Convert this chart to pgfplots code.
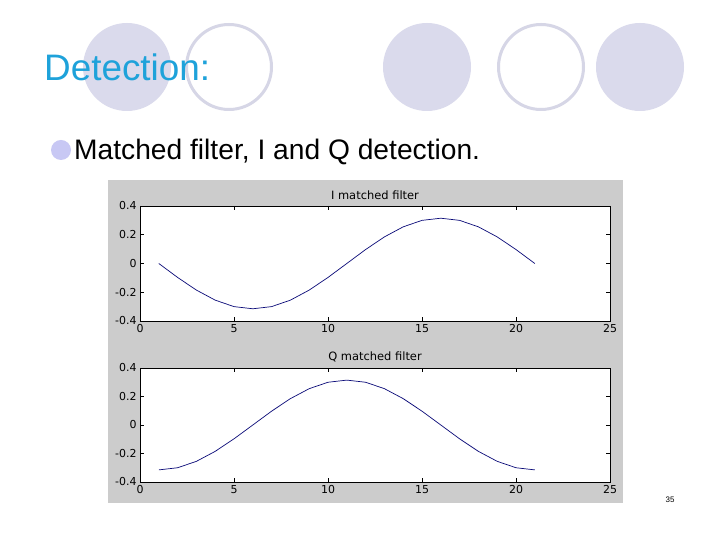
\documentclass[border=0pt]{standalone}
\usepackage{fontspec}
\setmainfont{Liberation Sans}
\newfontfamily\mfont{DejaVu Sans}
\usepackage{pgfplots}
\pgfplotsset{compat=1.18}
\definecolor{circfill}{RGB}{218,218,236}
\definecolor{circline}{RGB}{214,214,230}
\definecolor{titleblue}{RGB}{30,162,218}
\definecolor{bulletc}{RGB}{200,200,244}
\definecolor{figgray}{RGB}{204,204,204}
\definecolor{navy}{RGB}{10,10,120}
\pgfplotsset{
  matlab/.style={
    scale only axis, width=470bp, height=115bp,
    anchor=south west,
    xmin=0, xmax=25, ymin=-0.4, ymax=0.4,
    xtick={0,5,...,25}, ytick={-0.4,-0.2,0,0.2,0.4},
    tick align=inside, tick pos=both,
    major tick length=4bp,
    axis line style={black, line width=0.7bp},
    every tick/.style={black, line width=0.7bp},
    axis background/.style={fill=white},
    tick label style={font=\mfont\fontsize{11}{12}\selectfont},
    title style={font=\mfont\fontsize{11.5}{12}\selectfont, yshift=-3bp},
    yticklabel style={/pgf/number format/fixed, /pgf/number format/precision=1},
    /pgf/number format/assume math mode=true,
  }
}
\begin{document}
\begin{tikzpicture}[x=1bp, y=1bp]
\useasboundingbox (0,0) rectangle (720,540);
\fill[white] (0,0) rectangle (720,540);
% decorative circles
\fill[circfill] (127,473) circle (44);
\draw[circline, line width=3bp] (229,473) circle (42.5);
\fill[circfill] (427,473) circle (44);
\draw[circline, line width=3bp] (541,473) circle (42.5);
\fill[circfill] (640,473) circle (44);
% title and bullet
\node[anchor=base west, inner sep=0, text=titleblue, font=\fontsize{37}{40}\selectfont] at (44,459) {Detection:};
\fill[bulletc] (61,390) circle (10);
\node[anchor=base west, inner sep=0, font=\fontsize{28.3}{32}\selectfont] at (74,380) {Matched filter, I and Q detection.};
% figure background
\fill[figgray] (108,37) rectangle (623,360);
\begin{axis}[matlab, at={(140bp,219bp)}, title={I matched filter}]
\addplot[navy, line width=0.7bp] coordinates {
(1,0) (2,-0.097) (3,-0.185) (4,-0.255) (5,-0.300) (6,-0.315) (7,-0.300)
(8,-0.255) (9,-0.185) (10,-0.097) (11,0) (12,0.097) (13,0.185) (14,0.255)
(15,0.300) (16,0.315) (17,0.300) (18,0.255) (19,0.185) (20,0.097) (21,0)
};
\end{axis}
\begin{axis}[matlab, at={(140bp,58bp)}, height=114bp, title={Q matched filter}]
\addplot[navy, line width=0.7bp] coordinates {
(1,-0.315) (2,-0.300) (3,-0.255) (4,-0.185) (5,-0.097) (6,0) (7,0.097)
(8,0.185) (9,0.255) (10,0.300) (11,0.315) (12,0.300) (13,0.255) (14,0.185)
(15,0.097) (16,0) (17,-0.097) (18,-0.185) (19,-0.255) (20,-0.300) (21,-0.315)
};
\end{axis}
% page number
\node[font=\fontsize{8}{9}\selectfont] at (670,40) {35};
\end{tikzpicture}
\end{document}
